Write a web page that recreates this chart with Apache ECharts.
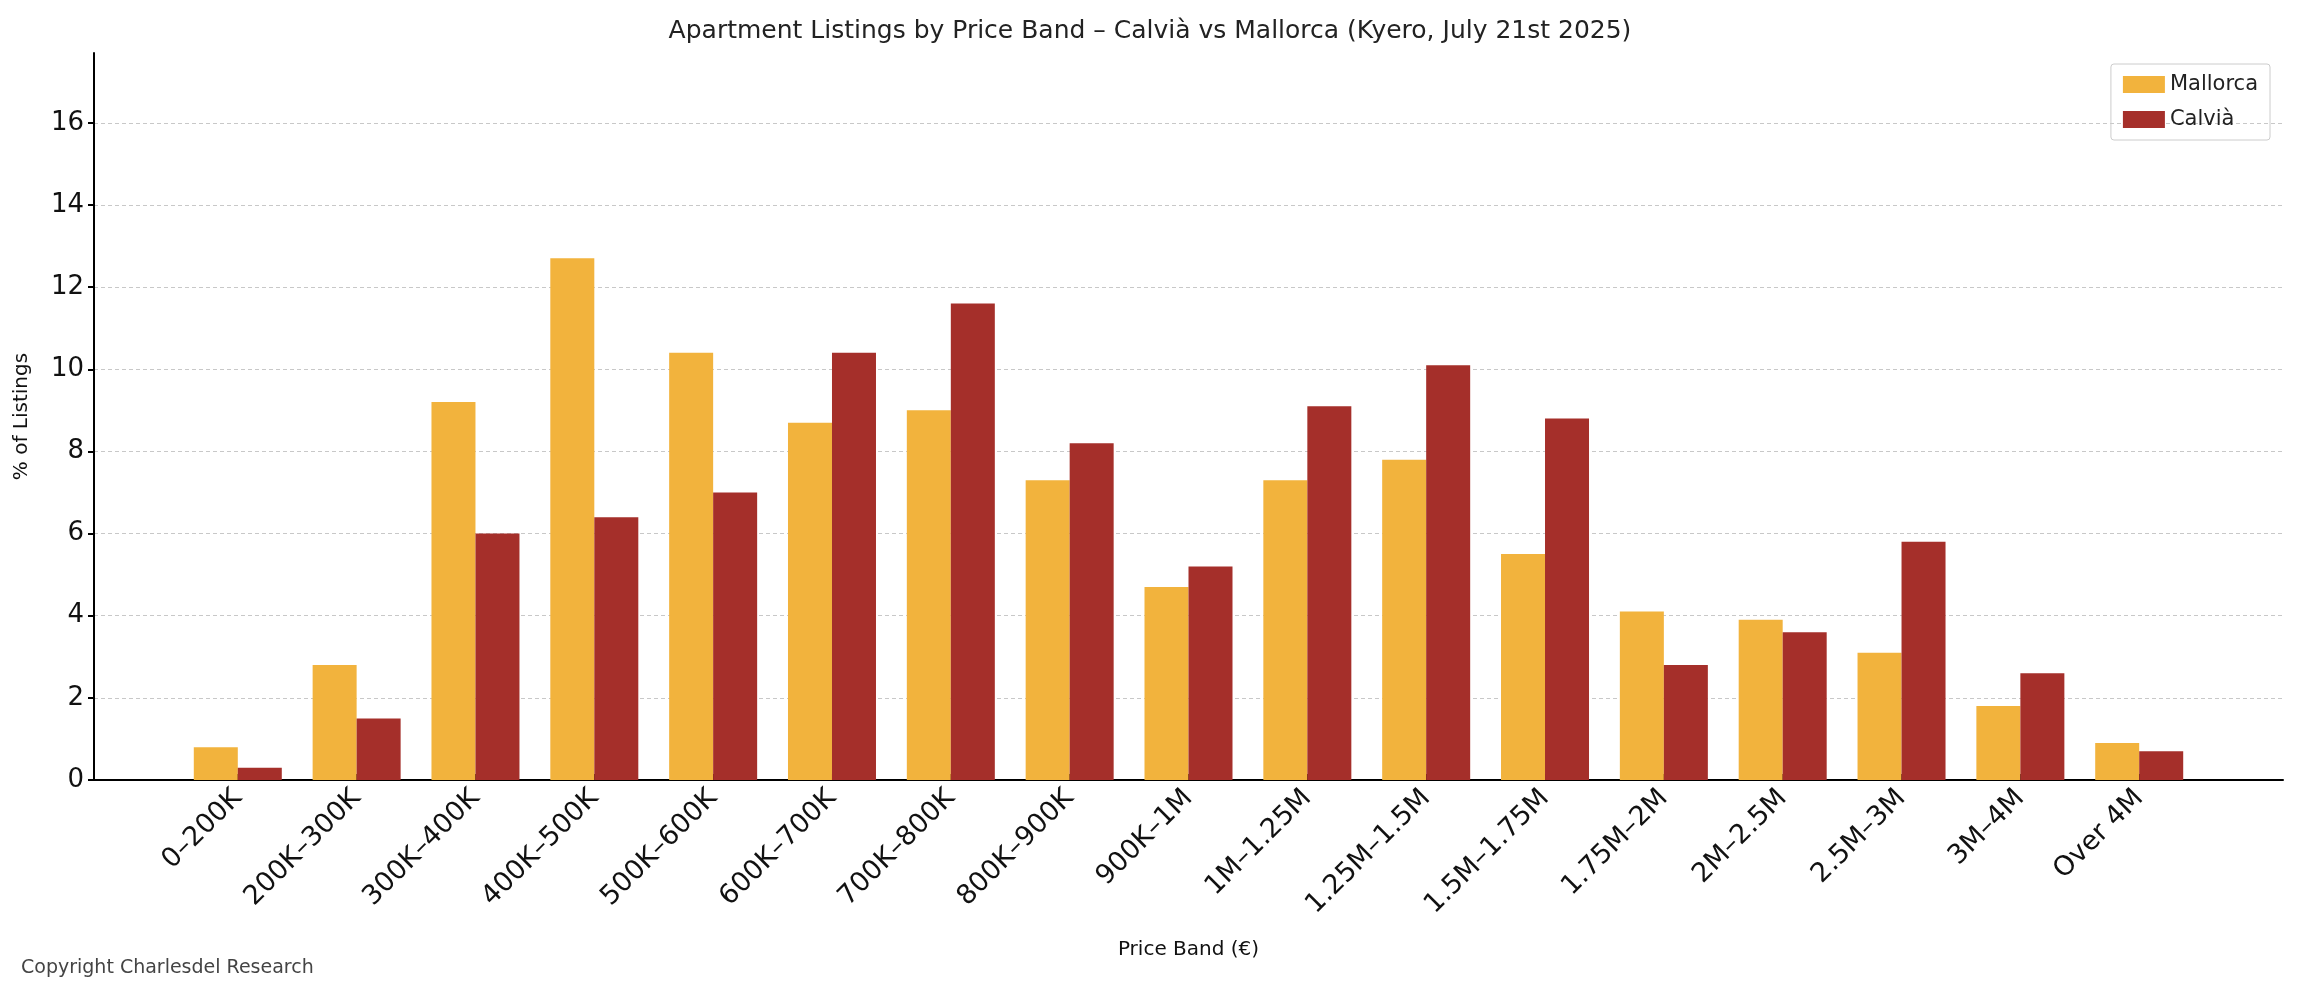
<!DOCTYPE html>
<html>
<head>
<meta charset="utf-8">
<script src="https://cdn.jsdelivr.net/npm/echarts@6/dist/echarts.min.js"></script>
<style>html,body{margin:0;padding:0;background:#fff}#chart{width:2300px;height:995px}</style>
</head>
<body>
<div id="chart"></div>
<script>
const categories = ['0–200K', '200K–300K', '300K–400K', '400K–500K', '500K–600K', '600K–700K', '700K–800K', '800K–900K', '900K–1M', '1M–1.25M', '1.25M–1.5M', '1.5M–1.75M', '1.75M–2M', '2M–2.5M', '2.5M–3M', '3M–4M', 'Over 4M'];
const mallorca = [0.8, 2.8, 9.2, 12.7, 10.4, 8.7, 9.0, 7.3, 4.7, 7.3, 7.8, 5.5, 4.1, 3.9, 3.1, 1.8, 0.9];
const calvia = [0.3, 1.5, 6.0, 6.4, 7.0, 10.4, 11.6, 8.2, 5.2, 9.1, 10.1, 8.8, 2.8, 3.6, 5.8, 2.6, 0.7];
const yTicks = [0, 2, 4, 6, 8, 10, 12, 14, 16];

const font = 'DejaVu Sans';
const idx = categories.map((c, i) => i);

const chart = echarts.init(document.getElementById('chart'));
chart.setOption({
    animation: false,
    textStyle: { fontFamily: font },
    title: [
        { text: 'Apartment Listings by Price Band – Calvià vs Mallorca (Kyero, July 21st 2025)', left: 'center', top: 14,
          textStyle: { fontFamily: font, fontSize: 25, fontWeight: 'normal', color: '#222' } },
        { text: 'Copyright Charlesdel Research', left: 16, top: 954,
          textStyle: { fontFamily: font, fontSize: 19, fontWeight: 'normal', color: '#444' } }
    ],
    legend: {
        orient: 'vertical', right: 30, top: 64, itemWidth: 42, itemHeight: 17, itemGap: 14,
        icon: 'rect', padding: [10, 12], borderColor: '#ccc', borderWidth: 1, borderRadius: 3,
        textStyle: { fontFamily: font, fontSize: 21, color: '#222' },
        data: ['Mallorca', 'Calvià']
    },
    grid: { left: 94, right: 17, top: 53, bottom: 215 },
    xAxis: {
        type: 'value', min: -1.21, max: 17.21,
        name: 'Price Band (€)', nameLocation: 'middle', nameGap: 160,
        nameTextStyle: { fontFamily: font, fontSize: 20, color: '#111' },
        axisLine: { show: true, onZero: false, lineStyle: { color: '#000', width: 2 } },
        axisTick: { show: true, inside: true, length: 6, customValues: idx, lineStyle: { color: '#000', width: 2 } },
        axisLabel: { customValues: idx, rotate: 45, fontSize: 27, color: '#111', margin: 14,
                     formatter: v => categories[Math.round(v)] },
        splitLine: { show: false }
    },
    yAxis: {
        type: 'value', min: 0, max: 17.7,
        name: '% of Listings', nameLocation: 'middle', nameGap: 62,
        nameTextStyle: { fontFamily: font, fontSize: 20, color: '#111' },
        axisLine: { show: true, onZero: false, lineStyle: { color: '#000', width: 2 } },
        axisTick: { show: true, length: 6, customValues: yTicks, lineStyle: { color: '#000', width: 2 } },
        axisLabel: { customValues: yTicks, fontSize: 26, color: '#111', margin: 10 },
        splitLine: { show: true, lineStyle: { color: '#c8c8c8', type: [4, 3], width: 1 } }
    },
    series: [
        { name: 'Mallorca', type: 'bar', barWidth: 44, barGap: '0%', z: 1,
          itemStyle: { color: '#F2B33D' }, data: mallorca.map((v, i) => [i, v]) },
        { name: 'Calvià', type: 'bar', barWidth: 44, barGap: '0%', z: 1,
          itemStyle: { color: '#A52F2A' }, data: calvia.map((v, i) => [i, v]) }
    ]
});
</script>
</body>
</html>
